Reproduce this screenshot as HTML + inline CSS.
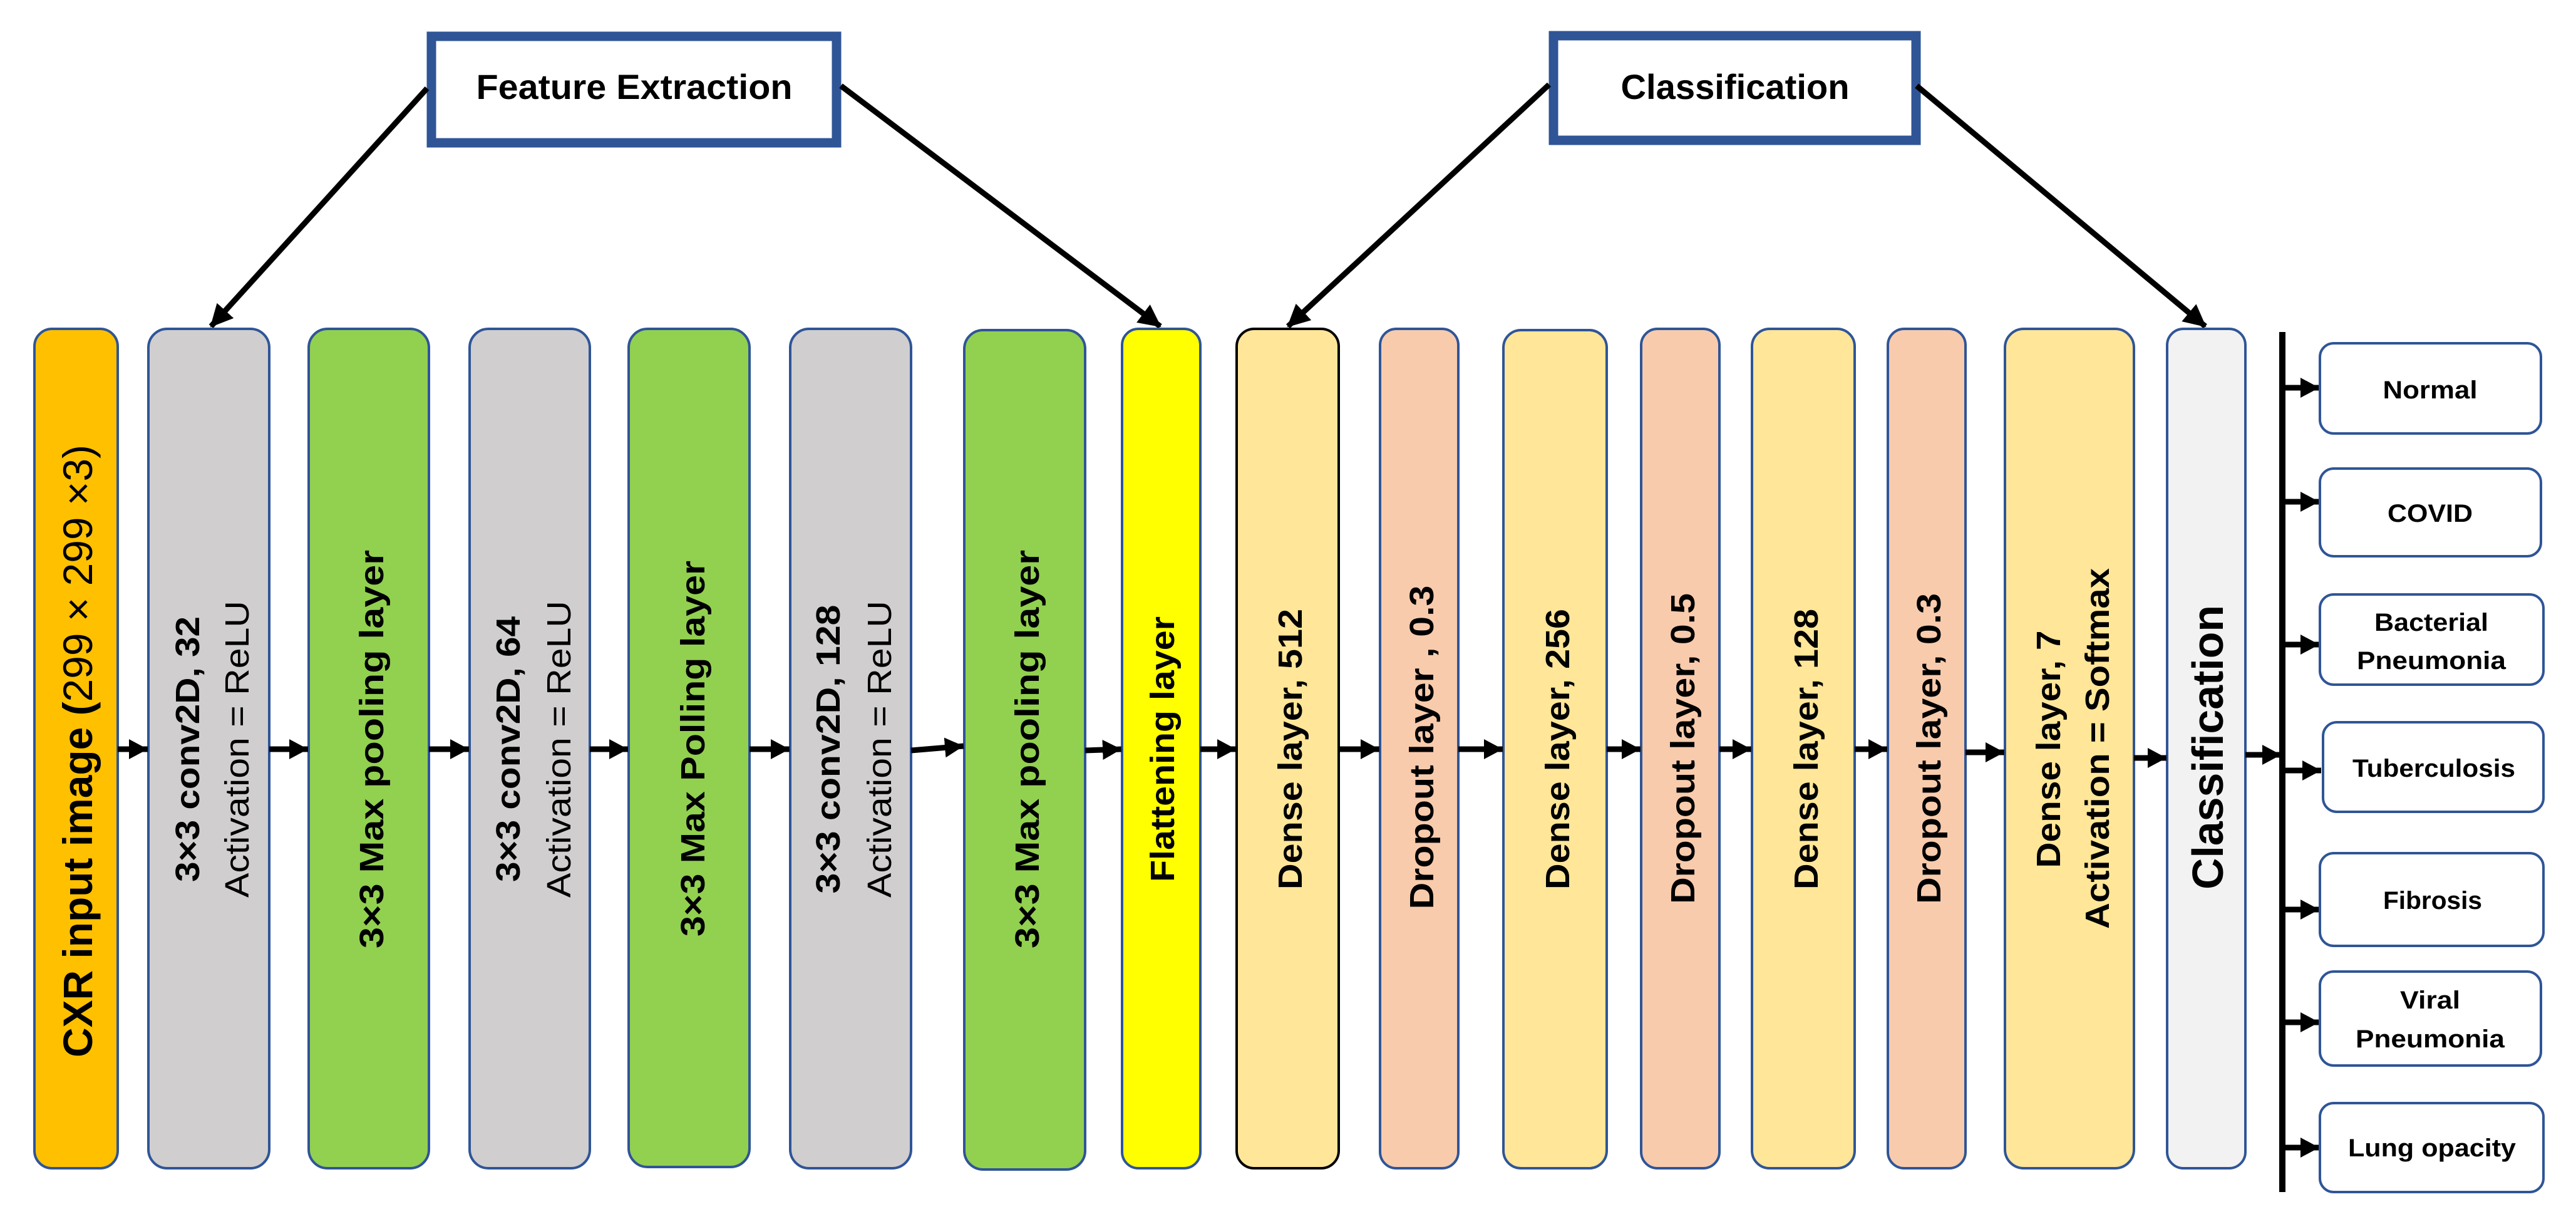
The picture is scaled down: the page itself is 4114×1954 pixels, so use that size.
<!DOCTYPE html>
<html><head><meta charset="utf-8"><style>html,body{margin:0;padding:0;background:#fff}svg{display:block}</style></head>
<body>
<svg width="4114" height="1954" viewBox="0 0 4114 1954" xmlns="http://www.w3.org/2000/svg" font-family="'Liberation Sans', sans-serif">
<defs>
<marker id="ah" markerUnits="userSpaceOnUse" markerWidth="40" markerHeight="40" refX="34" refY="20" orient="auto"><path d="M0,2 L36,20 L0,38 Z" fill="#000"/></marker>
<marker id="as" markerUnits="userSpaceOnUse" markerWidth="34" markerHeight="34" refX="30" refY="17" orient="auto"><path d="M0,1 L30,17 L0,33 Z" fill="#000"/></marker>
</defs>
<rect width="4114" height="1954" fill="#fff"/>
<!-- header boxes -->
<rect x="689" y="58" width="647" height="170" fill="#fff" stroke="#2F5597" stroke-width="15"/>
<text x="1013" y="158" font-size="56" font-weight="bold" text-anchor="middle" textLength="505" lengthAdjust="spacingAndGlyphs">Feature Extraction</text>
<rect x="2481" y="57" width="579" height="167" fill="#fff" stroke="#2F5597" stroke-width="15"/>
<text x="2771" y="158" font-size="56" font-weight="bold" text-anchor="middle" textLength="365" lengthAdjust="spacingAndGlyphs">Classification</text>
<g stroke="#000" stroke-width="9" fill="none">
<line x1="682" y1="141" x2="337" y2="521" marker-end="url(#ah)"/>
<line x1="1343" y1="137" x2="1853" y2="521" marker-end="url(#ah)"/>
<line x1="2474" y1="135" x2="2057" y2="521" marker-end="url(#ah)"/>
<line x1="3061" y1="137" x2="3522" y2="521" marker-end="url(#ah)"/>
</g>
<!-- layer boxes -->
<g stroke="#2F5597" stroke-width="4">
<rect x="55" y="525" width="133" height="1340" rx="28" fill="#FFC000"/>
<rect x="237" y="525" width="193" height="1340" rx="30" fill="#D0CECE"/>
<rect x="493" y="525" width="192" height="1340" rx="30" fill="#92D050"/>
<rect x="750" y="525" width="192" height="1340" rx="30" fill="#D0CECE"/>
<rect x="1004" y="525" width="193" height="1338" rx="30" fill="#92D050"/>
<rect x="1262" y="525" width="193" height="1340" rx="30" fill="#D0CECE"/>
<rect x="1540" y="527" width="193" height="1340" rx="30" fill="#92D050"/>
<rect x="1792" y="525" width="125" height="1340" rx="26" fill="#FFFF00"/>
<rect x="1975" y="525" width="163" height="1340" rx="28" fill="#FFE699" stroke="#000"/>
<rect x="2204" y="525" width="125" height="1340" rx="26" fill="#F8CBAD"/>
<rect x="2401" y="527" width="165" height="1338" rx="28" fill="#FFE699"/>
<rect x="2621" y="525" width="125" height="1340" rx="26" fill="#F8CBAD"/>
<rect x="2798" y="525" width="164" height="1340" rx="28" fill="#FFE699"/>
<rect x="3015" y="525" width="124" height="1340" rx="26" fill="#F8CBAD"/>
<rect x="3202" y="525" width="206" height="1340" rx="30" fill="#FFE699"/>
<rect x="3461" y="525" width="125" height="1340" rx="26" fill="#F2F2F2"/>
</g>
<!-- horizontal arrows -->
<g stroke="#000" stroke-width="9" marker-end="url(#as)">
<line x1="188" y1="1196" x2="236" y2="1196"/>
<line x1="430" y1="1196" x2="492" y2="1196"/>
<line x1="685" y1="1196" x2="749" y2="1196"/>
<line x1="942" y1="1196" x2="1003" y2="1196"/>
<line x1="1197" y1="1196" x2="1261" y2="1196"/>
<line x1="1455" y1="1198" x2="1539" y2="1191"/>
<line x1="1733" y1="1198" x2="1791" y2="1196"/>
<line x1="1917" y1="1196" x2="1974" y2="1196"/>
<line x1="2138" y1="1196" x2="2203" y2="1196"/>
<line x1="2329" y1="1196" x2="2400" y2="1196"/>
<line x1="2566" y1="1196" x2="2620" y2="1196"/>
<line x1="2746" y1="1196" x2="2797" y2="1196"/>
<line x1="2962" y1="1196" x2="3014" y2="1196"/>
<line x1="3139" y1="1201" x2="3201" y2="1201"/>
<line x1="3408" y1="1210" x2="3460" y2="1210"/>
<line x1="3586" y1="1205" x2="3643" y2="1205"/>
</g>
<!-- vertical bar -->
<rect x="3640" y="530" width="10" height="1373" fill="#000"/>
<g stroke="#000" stroke-width="9" marker-end="url(#as)">
<line x1="3645" y1="619" x2="3704" y2="619"/>
<line x1="3645" y1="801" x2="3704" y2="801"/>
<line x1="3645" y1="1029" x2="3704" y2="1029"/>
<line x1="3645" y1="1230" x2="3707" y2="1230"/>
<line x1="3645" y1="1452" x2="3704" y2="1452"/>
<line x1="3645" y1="1632" x2="3704" y2="1632"/>
<line x1="3645" y1="1832" x2="3704" y2="1832"/>
</g>
<!-- output boxes -->
<g stroke="#2F5597" stroke-width="4" fill="#fff">
<rect x="3705" y="548" width="353" height="144" rx="22"/>
<rect x="3705" y="748" width="353" height="140" rx="22"/>
<rect x="3705" y="949" width="357" height="144" rx="22"/>
<rect x="3710" y="1153" width="352" height="143" rx="22"/>
<rect x="3705" y="1362" width="357" height="148" rx="22"/>
<rect x="3705" y="1551" width="353" height="150" rx="22"/>
<rect x="3705" y="1761" width="357" height="142" rx="22"/>
</g>
<g font-size="40" font-weight="bold" text-anchor="middle">
<text x="3881" y="636" textLength="151" lengthAdjust="spacingAndGlyphs">Normal</text>
<text x="3881" y="833" textLength="136" lengthAdjust="spacingAndGlyphs">COVID</text>
<text x="3883" y="1007" textLength="182" lengthAdjust="spacingAndGlyphs">Bacterial</text>
<text x="3883" y="1068" textLength="238" lengthAdjust="spacingAndGlyphs">Pneumonia</text>
<text x="3887" y="1240" textLength="260" lengthAdjust="spacingAndGlyphs">Tuberculosis</text>
<text x="3885" y="1451" textLength="158" lengthAdjust="spacingAndGlyphs">Fibrosis</text>
<text x="3881" y="1610" textLength="96" lengthAdjust="spacingAndGlyphs">Viral</text>
<text x="3881" y="1672" textLength="238" lengthAdjust="spacingAndGlyphs">Pneumonia</text>
<text x="3884" y="1846" textLength="268" lengthAdjust="spacingAndGlyphs">Lung opacity</text>
</g>
<!-- rotated labels: translate to (baseline x, center y) -->
<g text-anchor="middle">
<text transform="translate(147,1199) rotate(-90)" font-size="66" textLength="978" lengthAdjust="spacingAndGlyphs"><tspan font-weight="bold">CXR input image (</tspan>299 × 299 ×3)</text>
<text transform="translate(318,1196) rotate(-90)" font-size="54" font-weight="bold" textLength="424" lengthAdjust="spacingAndGlyphs">3×3 conv2D, 32</text>
<text transform="translate(397,1196) rotate(-90)" font-size="54" textLength="474" lengthAdjust="spacingAndGlyphs">Activation = ReLU</text>
<text transform="translate(612,1196) rotate(-90)" font-size="54" font-weight="bold" textLength="636" lengthAdjust="spacingAndGlyphs">3×3  Max pooling layer</text>
<text transform="translate(830,1196) rotate(-90)" font-size="54" font-weight="bold" textLength="424" lengthAdjust="spacingAndGlyphs">3×3 conv2D, 64</text>
<text transform="translate(911,1196) rotate(-90)" font-size="54" textLength="474" lengthAdjust="spacingAndGlyphs">Activation = ReLU</text>
<text transform="translate(1125,1195) rotate(-90)" font-size="54" font-weight="bold" textLength="600" lengthAdjust="spacingAndGlyphs">3×3 Max Polling layer</text>
<text transform="translate(1341,1196) rotate(-90)" font-size="54" font-weight="bold" textLength="461" lengthAdjust="spacingAndGlyphs">3×3 conv2D, 128</text>
<text transform="translate(1423,1196) rotate(-90)" font-size="54" textLength="474" lengthAdjust="spacingAndGlyphs">Activation = ReLU</text>
<text transform="translate(1659,1196) rotate(-90)" font-size="54" font-weight="bold" textLength="636" lengthAdjust="spacingAndGlyphs">3×3  Max pooling layer</text>
<text transform="translate(1875,1196) rotate(-90)" font-size="54" font-weight="bold" textLength="424" lengthAdjust="spacingAndGlyphs">Flattening layer</text>
<text transform="translate(2079,1196) rotate(-90)" font-size="54" font-weight="bold" textLength="448" lengthAdjust="spacingAndGlyphs">Dense layer, 512</text>
<text transform="translate(2289,1193) rotate(-90)" font-size="54" font-weight="bold" textLength="517" lengthAdjust="spacingAndGlyphs">Dropout layer , 0.3</text>
<text transform="translate(2506,1196) rotate(-90)" font-size="54" font-weight="bold" textLength="448" lengthAdjust="spacingAndGlyphs">Dense layer, 256</text>
<text transform="translate(2706,1195) rotate(-90)" font-size="54" font-weight="bold" textLength="496" lengthAdjust="spacingAndGlyphs">Dropout layer, 0.5</text>
<text transform="translate(2903,1196) rotate(-90)" font-size="54" font-weight="bold" textLength="448" lengthAdjust="spacingAndGlyphs">Dense layer, 128</text>
<text transform="translate(3099,1195) rotate(-90)" font-size="54" font-weight="bold" textLength="496" lengthAdjust="spacingAndGlyphs">Dropout layer, 0.3</text>
<text transform="translate(3290,1196) rotate(-90)" font-size="54" font-weight="bold" textLength="379" lengthAdjust="spacingAndGlyphs">Dense layer, 7</text>
<text transform="translate(3368,1195) rotate(-90)" font-size="54" font-weight="bold" textLength="576" lengthAdjust="spacingAndGlyphs">Activation = Softmax</text>
<text transform="translate(3550,1193) rotate(-90)" font-size="70" font-weight="bold" textLength="454" lengthAdjust="spacingAndGlyphs">Classification</text>
</g>
</svg>
</body></html>
